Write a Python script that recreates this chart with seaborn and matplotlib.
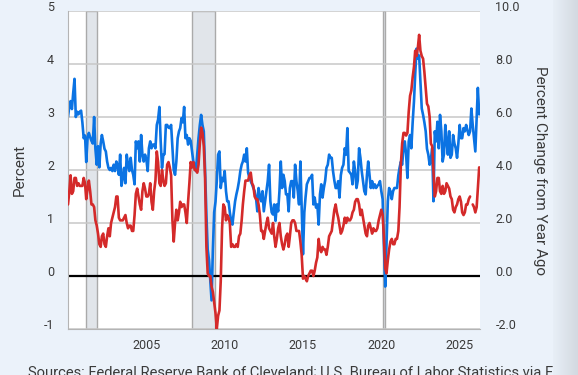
import pandas as pd
import matplotlib
matplotlib.use('Agg')
import matplotlib.pyplot as plt
import matplotlib.transforms as mtransforms
import numpy as np
import seaborn as sns

# monthly values, Jan 2000 - Apr 2026
expected_infl = [
    3.0, 3.2, 3.3, 3.15, 3.45, 3.72, 3.0, 3.1, 3.05, 3.1, 3.12, 2.9,       # 2000
    2.6, 2.65, 2.15, 2.6, 2.7, 2.62, 2.55, 2.5, 3.0, 2.4, 2.1, 2.45,       # 2001
    2.05, 2.5, 2.66, 2.54, 2.4, 2.35, 2.16, 2.04, 2.0, 2.04, 1.98, 2.1,    # 2002
    1.98, 2.16, 2.1, 1.91, 2.29, 1.7, 1.85, 2.04, 1.75, 2.29, 2.1, 1.98,   # 2003
    2.23, 2.0, 1.91, 1.73, 2.54, 2.41, 2.54, 2.16, 2.66, 2.29, 2.16, 2.29, # 2004
    2.2, 1.98, 2.41, 2.54, 2.41, 2.48, 2.48, 2.41, 2.85, 2.95, 3.19, 2.54, # 2005
    2.04, 2.29, 2.3, 2.85, 2.85, 2.8, 2.79, 2.85, 2.41, 2.0, 1.91, 2.16,   # 2006
    2.6, 2.73, 2.79, 2.98, 2.9, 3.19, 2.6, 2.66, 2.48, 2.6, 2.55, 2.35,    # 2007
    2.16, 2.1, 1.98, 2.29, 2.6, 2.85, 3.04, 2.85, 2.73, 2.0, 1.16, 0.5,    # 2008
    0.3, -0.1, -0.46, 0.5, 1.2, 1.4, 1.79, 2.29, 2.35, 1.66, 1.85, 1.79,   # 2009
    1.98, 1.6, 1.41, 1.41, 1.2, 1.04, 0.97, 1.2, 1.41, 1.54, 1.65, 1.79,   # 2010
    1.98, 2.1, 2.16, 2.29, 2.16, 2.41, 1.95, 1.85, 1.79, 1.73, 1.66, 1.6,  # 2011
    1.48, 1.22, 1.66, 1.5, 1.41, 1.6, 1.22, 1.41, 1.6, 1.79, 2.1, 1.41,    # 2012
    1.2, 1.16, 1.35, 1.04, 1.35, 1.22, 1.6, 2.16, 1.66, 1.91, 1.79, 1.54,  # 2013
    1.54, 1.22, 1.66, 1.79, 1.79, 1.48, 2.1, 1.79, 1.6, 1.35, 2.16, 1.29,  # 2014
    0.41, 1.2, 1.48, 1.73, 1.79, 1.85, 1.85, 1.91, 1.35, 1.48, 1.29, 1.35, # 2015
    0.97, 1.54, 1.73, 1.48, 1.66, 1.8, 2.04, 2.1, 2.29, 2.23, 2.23, 1.98,  # 2016
    1.8, 1.66, 1.66, 1.79, 1.48, 1.9, 2.04, 2.1, 2.41, 2.29, 2.79, 1.98,   # 2017
    1.95, 1.91, 1.73, 2.16, 1.98, 1.66, 1.8, 2.41, 2.23, 1.98, 1.79, 1.6,  # 2018
    1.54, 1.91, 2.16, 1.9, 1.66, 1.79, 1.66, 1.73, 1.66, 1.7, 1.73, 1.79,  # 2019
    1.6, 1.45, 0.6, -0.2, 0.6, 1.41, 1.66, 1.6, 1.45, 1.6, 1.66, 1.66,     # 2020
    1.66, 1.9, 2.04, 2.16, 2.1, 2.41, 2.54, 2.3, 1.85, 2.54, 2.66, 2.41,   # 2021
    2.9, 3.3, 3.8, 4.29, 4.1, 4.16, 3.66, 3.16, 3.04, 2.9, 2.73, 2.4,      # 2022
    2.29, 2.1, 2.2, 2.41, 1.41, 2.73, 2.54, 2.91, 2.41, 3.04, 2.73, 2.16,  # 2023
    2.3, 2.85, 2.54, 2.29, 2.73, 2.23, 2.29, 2.66, 2.5, 2.41, 2.23, 2.5,   # 2024
    2.85, 2.6, 2.6, 2.79, 2.73, 2.85, 2.75, 2.66, 2.73, 3.16, 2.85, 2.6,   # 2025
    2.35, 3.0, 3.55, 3.05,                                                 # 2026
]

cpi_yoy = [
    2.7, 3.2, 3.8, 3.1, 3.2, 3.7, 3.7, 3.4, 3.5, 3.4, 3.4, 3.4,        # 2000
    3.7, 3.5, 2.9, 3.3, 3.6, 3.2, 2.7, 2.7, 2.6, 2.1, 1.9, 1.6,        # 2001
    1.2, 1.1, 1.5, 1.6, 1.2, 1.1, 1.5, 1.8, 1.5, 2.0, 2.2, 2.4,        # 2002
    2.6, 3.0, 3.0, 2.2, 2.1, 2.1, 2.1, 2.2, 2.3, 2.0, 1.8, 1.9,        # 2003
    1.9, 1.7, 1.7, 2.3, 3.1, 3.3, 3.0, 2.7, 2.5, 3.2, 3.5, 3.3,        # 2004
    3.0, 3.0, 3.1, 3.5, 2.8, 2.5, 3.2, 3.6, 4.7, 4.3, 3.5, 3.4,        # 2005
    4.0, 3.6, 3.4, 3.5, 4.2, 4.3, 4.1, 3.8, 2.1, 1.3, 2.0, 2.5,        # 2006
    2.1, 2.4, 2.8, 2.6, 2.7, 2.7, 2.4, 2.0, 2.8, 3.5, 4.3, 4.1,        # 2007
    4.3, 4.0, 4.0, 3.9, 4.2, 5.0, 5.6, 5.4, 4.9, 3.7, 1.1, 0.1,        # 2008
    0.0, 0.0, -0.4, -0.6, -1.0, -1.4, -2.0, -1.5, -1.3, -0.2, 1.8, 2.7,  # 2009
    2.6, 2.1, 2.3, 2.2, 2.0, 1.1, 1.2, 1.1, 1.1, 1.2, 1.1, 1.5,        # 2010
    1.6, 2.1, 2.7, 3.2, 3.6, 3.6, 3.6, 3.8, 3.9, 3.5, 3.4, 3.0,        # 2011
    2.9, 2.9, 2.7, 2.3, 1.7, 1.7, 1.4, 1.7, 2.0, 2.2, 1.8, 1.7,        # 2012
    1.6, 2.0, 1.5, 1.1, 1.4, 1.8, 2.0, 1.5, 1.2, 1.0, 1.2, 1.5,        # 2013
    1.6, 1.1, 1.5, 2.0, 2.1, 2.1, 2.0, 1.7, 1.7, 1.7, 1.3, 0.8,        # 2014
    -0.1, 0.0, -0.1, -0.2, 0.0, 0.1, 0.2, 0.2, 0.0, 0.2, 0.5, 0.7,     # 2015
    1.4, 1.0, 0.9, 1.1, 1.0, 1.0, 0.8, 1.1, 1.5, 1.6, 1.7, 2.1,        # 2016
    2.5, 2.7, 2.4, 2.2, 1.9, 1.6, 1.7, 1.9, 2.2, 2.0, 2.2, 2.1,        # 2017
    2.1, 2.2, 2.4, 2.5, 2.8, 2.9, 2.9, 2.7, 2.3, 2.5, 2.2, 1.9,        # 2018
    1.6, 1.5, 1.9, 2.0, 1.8, 1.6, 1.8, 1.7, 1.7, 1.8, 2.1, 2.3,        # 2019
    2.5, 2.3, 1.5, 0.3, 0.1, 0.6, 1.0, 1.3, 1.4, 1.2, 1.2, 1.4,        # 2020
    1.4, 1.7, 2.6, 4.2, 5.0, 5.4, 5.4, 5.3, 5.4, 6.2, 6.8, 7.0,        # 2021
    7.5, 7.9, 8.5, 8.3, 8.6, 9.1, 8.5, 8.3, 8.2, 7.7, 7.1, 6.5,        # 2022
    6.4, 6.0, 5.0, 4.9, 4.0, 3.0, 3.2, 3.7, 3.7, 3.2, 3.1, 3.4,        # 2023
    3.1, 3.2, 3.5, 3.4, 3.3, 3.0, 2.9, 2.5, 2.4, 2.6, 2.7, 2.9,        # 2024
    3.0, 2.8, 2.4, 2.3, 2.4, 2.7, 2.7, 2.9, 3.0, np.nan, 2.7, 2.6,     # 2025
    2.4, 2.6, 3.3, 4.1,                                                # 2026
]

rec_start = ['2001-03-01', '2007-12-01', '2020-02-01']
rec_end = ['2001-11-01', '2009-06-01', '2020-04-01']
x_ticks = ['2005', '2010', '2015', '2020', '2025']
left_ticks = [-1, 0, 1, 2, 3, 4, 5]
right_ticks = [-2, 0, 2, 4, 6, 8, 10]

dates = pd.date_range('2000-01-01', periods=len(expected_infl), freq='MS')
df = pd.DataFrame({'date': dates, 'expected': expected_infl, 'cpi': cpi_yoy})

sns.set_style('white')
plt.rcParams['font.family'] = ['Roboto', 'DejaVu Sans']

bg = '#ebf2fa'
blue = '#0b73e3'
red = '#d42a2a'
txt = '#3a3a3a'

fig = plt.figure(figsize=(5.78, 3.75), dpi=100, facecolor=bg)
ax1 = fig.add_axes([68 / 578, 1 - 329 / 375, 412 / 578, 318 / 375])
ax1.set_facecolor('white')

for s, e in zip(rec_start, rec_end):
    ax1.axvspan(pd.Timestamp(s), pd.Timestamp(e), facecolor='#e1e5ea',
                edgecolor='#aaaaaa', linewidth=1, zorder=0.2)

ax1.grid(axis='y', color='#c8c8c8', linewidth=1.1)
ax1.set_axisbelow(True)
ax1.axhline(0, color='black', linewidth=1.6, zorder=1.5)

sns.lineplot(data=df, x='date', y='expected', ax=ax1, color=blue,
             linewidth=1.9, errorbar=None)

ax2 = ax1.twinx()
for _, seg in df.groupby(df['cpi'].isna().cumsum()):
    seg = seg.dropna(subset=['cpi'])
    sns.lineplot(data=seg, x='date', y='cpi', ax=ax2, color=red,
                 linewidth=1.9, errorbar=None)

ax1.set_xlim(pd.Timestamp('2000-01-01'), pd.Timestamp('2026-04-20'))
ax1.set_ylim(-1, 5)
ax2.set_ylim(-2, 10)

ax1.set_xticks(pd.to_datetime(x_ticks))
ax1.set_xticklabels(x_ticks)
ax1.set_yticks(left_ticks)
ax1.set_yticklabels([str(v) for v in left_ticks])
ax2.set_yticks(right_ticks)
ax2.set_yticklabels([f'{v:.1f}' for v in right_ticks])

ax1.tick_params(axis='x', length=4, color='#aaaaaa', pad=3, labelsize=9, labelcolor=txt)
ax1.tick_params(axis='y', length=0, pad=10, labelsize=9, labelcolor=txt)
ax2.tick_params(axis='y', length=0, pad=11, labelsize=9, labelcolor=txt)

# FRED puts y labels just above their gridlines
up = mtransforms.ScaledTranslation(0, 5 / 100, fig.dpi_scale_trans)
for lbl in ax1.get_yticklabels() + ax2.get_yticklabels():
    lbl.set_transform(lbl.get_transform() + up)

for sp in ['top', 'right']:
    ax1.spines[sp].set_visible(False)
for sp in ax2.spines.values():
    sp.set_visible(False)
ax1.spines['left'].set_color('#b4b4b4')
ax1.spines['bottom'].set_color('#b4b4b4')

ax1.set_xlabel('')
ax1.set_ylabel('Percent', fontsize=11, color=txt)
ax1.yaxis.set_label_coords(-0.117, 0.5)
ax1.yaxis.label.set_va('center')
ax2.set_ylabel('Percent Change from Year Ago', fontsize=11, color=txt, rotation=270)
ax2.yaxis.set_label_coords(1.146, 0.5)
ax2.yaxis.label.set_va('center')
ax2.set_xlabel('')

fig.text(28 / 578, 1 - 366 / 375,
         'Sources: Federal Reserve Bank of Cleveland; U.S. Bureau of Labor Statistics via FRED',
         fontsize=10.6, color=txt, va='top', ha='left')

# scrollbar shadow on the right edge
strip = fig.add_axes([553 / 578, 0, 25 / 578, 1], zorder=5)
grad = np.linspace(0, 1, 50).reshape(1, -1)
strip.imshow(grad, aspect='auto', extent=[0, 1, 0, 1],
             cmap=matplotlib.colors.LinearSegmentedColormap.from_list('s', ['#e8eff7', '#d3d9e0']))
strip.axis('off')

fig.savefig('out.png', dpi=100, facecolor=bg)
